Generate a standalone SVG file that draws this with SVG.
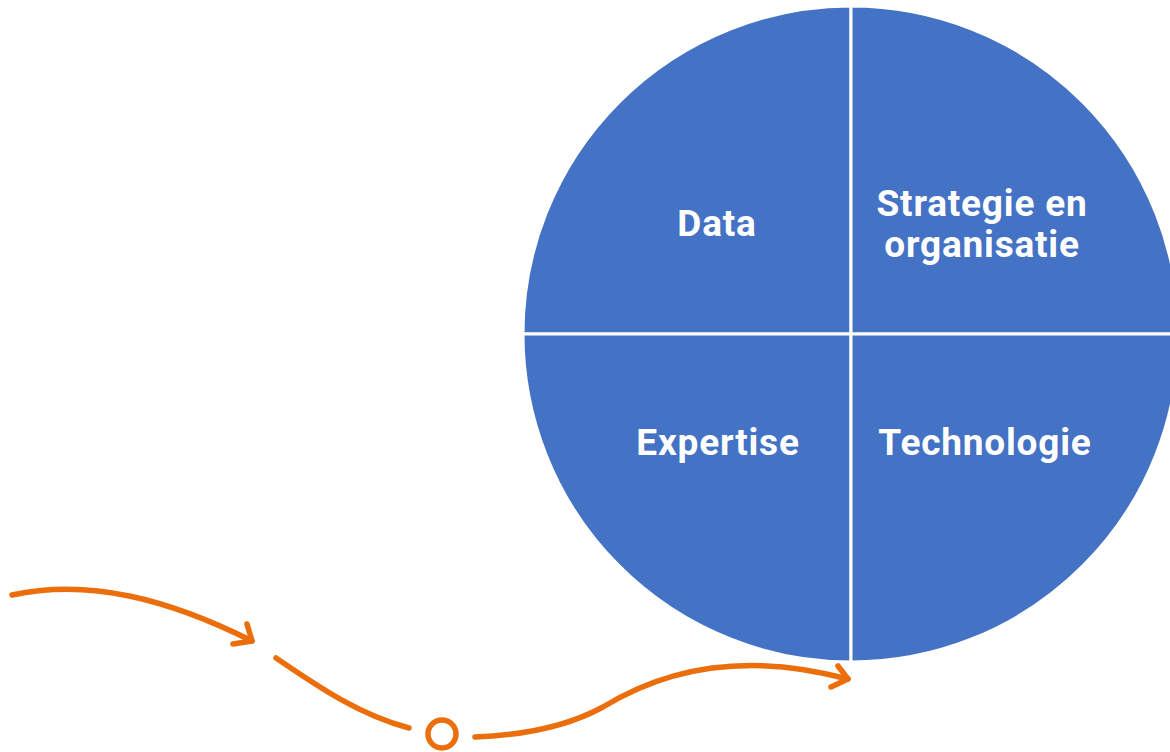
<svg xmlns="http://www.w3.org/2000/svg" width="1170" height="752" viewBox="0 0 1170 752">
<style>
.q{fill:#4472C4;stroke:#FFFFFF;stroke-width:3}
.t{fill:#FFFFFF;font-family:Roboto,"Liberation Sans",sans-serif;font-weight:bold;font-size:37px;letter-spacing:0.8px;text-anchor:middle}
.c{fill:none;stroke:#EC6E0A;stroke-width:5.5;stroke-linecap:round;stroke-linejoin:round}
</style>
<rect width="1170" height="752" fill="#FFFFFF"/>
<g id="data">
<path class="q" d="M851,334 L523,334 A328,328 0 0 1 851,6 Z"/>
<text class="t" x="717" y="236">Data</text>
</g>
<g id="strategie">
<path class="q" d="M851,334 L851,6 A328,328 0 0 1 1179,334 Z"/>
<text class="t" x="982" y="216">Strategie en</text>
<text class="t" x="982" y="257">organisatie</text>
</g>
<g id="expertise">
<path class="q" d="M851,334 L851,662 A328,328 0 0 1 523,334 Z"/>
<text class="t" x="718" y="455">Expertise</text>
</g>
<g id="technologie">
<path class="q" d="M851,334 L1179,334 A328,328 0 0 1 851,662 Z"/>
<text class="t" x="985" y="455">Technologie</text>
</g>
<g id="connectors">
<path class="c" d="M12,595 C90,578 170,600 252,641"/>
<path class="c" d="M247,624 L252,641 L233,644"/>
<path class="c" d="M276,658 C320,688 360,715 409,728"/>
<circle class="c" cx="442" cy="734" r="14"/>
<path class="c" d="M475,737 C530,735 570,725 603,707 C660,672 740,650 848,679"/>
<path class="c" d="M838,666 L848,679 L831,687"/>
</g>
</svg>
